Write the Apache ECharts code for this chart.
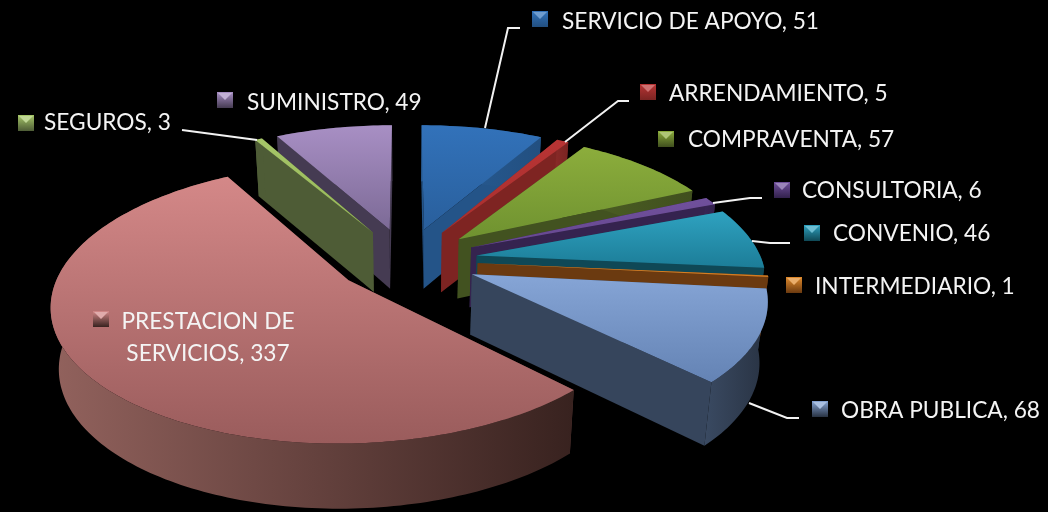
<!DOCTYPE html>
<html>
<head>
<meta charset="utf-8">
<style>
    html, body { margin: 0; padding: 0; background: #000; }
    #main { width: 1048px; height: 512px; }
    #main canvas { filter: blur(0.5px); }
</style>
<script src="https://cdn.jsdelivr.net/npm/echarts@6/dist/echarts.min.js"></script>
</head>
<body>
<div id="main"></div>
<script>
    // chart data
    var names = ['SERVICIO DE APOYO', 'ARRENDAMIENTO', 'COMPRAVENTA', 'CONSULTORIA', 'CONVENIO',
        'INTERMEDIARIO', 'OBRA PUBLICA', 'PRESTACION DE\nSERVICIOS', 'SEGUROS', 'SUMINISTRO'];
    var values = [51, 5, 57, 6, 46, 1, 68, 337, 3, 49];

    // top face gradient, side wall, outer wall gradient
    var topColors = [['#3272ba', '#295f9c'], ['#b83434', '#a82f2e'], ['#8cad3c', '#6f9230'], ['#70509c', '#664890'],
        ['#2fa2c0', '#1c7d98'], ['#e08a2c', '#d07a20'], ['#86a5d6', '#6483b4'], ['#d48888', '#9a5c5c'],
        ['#a6c668', '#96b658'], ['#a88fc4', '#7c6a96']];
    var sideColors = ['#245488', '#7e2422', '#425220', '#35234f', '#0f4856', '#6b3a10', '#36455c', '#5a3836', '#4e5c36', '#453b52'];
    var wallColors = [['#2a5f98', '#224f80'], ['#8a2a28', '#7a2422'], ['#4c5f24', '#404f1e'], ['#3a2658', '#32214c'],
        ['#0f4856', '#0f4855'], ['#7a4212', '#6b3a10'], ['#3a4a62', '#283242'], ['#92625d', '#38221f'],
        ['#4e5c36', '#4e5c36'], ['#453b52', '#453b52']];

    // label placement: marker box, text anchor, leader line
    var labelBoxes = [[532, 11], [640, 84], [658, 131], [774, 182], [804, 225], [786, 277], [812, 401], [93, 311], [18, 115], [217, 92]];
    var labelTexts = [[562, 22], [669, 94], [688, 140], [802, 191], [833, 234], [815, 287], [841, 411], [208, 338], [44, 123], [247, 103]];
    var leaders = [
        [[485, 128], [508, 28], [520, 28]],
        [[565, 142], [618, 101], [629, 101]],
        null,
        [[713, 203], [750, 198], [762, 198]],
        [[752, 241], [770, 243], [790, 243]],
        null,
        [[749, 403], [787, 418], [799, 418]],
        null,
        [[182, 130], [257, 140]],
        null
    ];

    // pie projection
    var cx = 406.5, cy = 260, rx = 285, ry = 130, persp = 0.16, explode = 0.25, depth = 60, shrink = 0.977;

    var total = values.reduce(function (a, b) { return a + b; }, 0);
    var starts = [];
    values.reduce(function (acc, v, i) { starts[i] = acc; return acc + v; }, 0);

    function project(u, v) {
        var s = 1 / (1 + persp * v);
        return [cx + rx * u * s, cy - ry * v * s, s];
    }
    function topPoint(u, v) {
        var p = project(u, v);
        return [p[0], p[1]];
    }
    function bottomPoint(u, v) {
        var p = project(u, v);
        return [cx + (p[0] - cx) * shrink, p[1] + depth * Math.pow(p[2], 0.4)];
    }

    function sliceAngles(i) {
        var a0 = starts[i] / total * Math.PI * 2;
        var a1 = (starts[i] + values[i]) / total * Math.PI * 2;
        return [a0, a1, (a0 + a1) / 2];
    }

    // back slices are painted first
    var drawOrder = values.map(function (v, i) { return i; }).sort(function (a, b) {
        return Math.cos(sliceAngles(b)[2]) - Math.cos(sliceAngles(a)[2]);
    });

    function renderSlice(params, api) {
        var i = params.dataIndex;
        var ang = sliceAngles(i);
        var ou = Math.sin(ang[2]) * explode, ov = Math.cos(ang[2]) * explode;
        var rank = drawOrder.indexOf(i) * 10;
        var steps = Math.max(4, Math.ceil((ang[1] - ang[0]) / 0.02));
        var arc = [];
        for (var k = 0; k <= steps; k++) {
            var t = ang[0] + (ang[1] - ang[0]) * k / steps;
            arc.push([ou + Math.sin(t), ov + Math.cos(t)]);
        }
        var tip = [ou, ov];
        var first = arc[0], last = arc[arc.length - 1];
        var children = [];

        function wallQuad(a, b) {
            children.push({
                type: 'polygon', z2: rank + 1,
                shape: {points: [topPoint(a[0], a[1]), topPoint(b[0], b[1]), bottomPoint(b[0], b[1]), bottomPoint(a[0], a[1])]},
                style: {fill: sideColors[i]}
            });
        }
        wallQuad(tip, first);
        wallQuad(tip, last);

        var topArc = arc.map(function (p) { return topPoint(p[0], p[1]); });
        var lowArc = arc.map(function (p) { return bottomPoint(p[0], p[1]); }).reverse();
        children.push({
            type: 'polygon', z2: rank + 2,
            shape: {points: topArc.concat(lowArc)},
            style: {
                fill: new echarts.graphic.LinearGradient(0, 0, 1, 0, [
                    {offset: 0, color: wallColors[i][0]},
                    {offset: 1, color: wallColors[i][1]}
                ])
            }
        });
        children.push({
            type: 'polygon', z2: rank + 3,
            shape: {points: [topPoint(tip[0], tip[1])].concat(topArc)},
            style: {
                fill: new echarts.graphic.LinearGradient(0, 0, 0, 1, [
                    {offset: 0, color: topColors[i][0]},
                    {offset: 1, color: topColors[i][1]}
                ])
            }
        });

        // leader line
        if (leaders[i]) {
            children.push({
                type: 'polyline', z2: 500,
                shape: {points: leaders[i]},
                style: {fill: null, stroke: '#f2f2f2', lineWidth: 2}
            });
        }

        // bevelled marker square
        var bx = labelBoxes[i][0], by = labelBoxes[i][1], size = 16;
        children.push({
            type: 'rect', z2: 600,
            shape: {x: bx, y: by, width: size, height: size},
            style: {
                fill: new echarts.graphic.LinearGradient(0, 0, 0, 1, [
                    {offset: 0, color: topColors[i][0]},
                    {offset: 1, color: wallColors[i][1]}
                ])
            }
        });
        children.push({
            type: 'polygon', z2: 601,
            shape: {points: [[bx + 1, by + 1], [bx + size - 1, by + 1], [bx + size / 2, by + size / 2]]},
            style: {fill: echarts.color.lift(topColors[i][0], 0.3)}
        });

        // label text
        var isInside = names[i].indexOf('\n') >= 0;
        children.push({
            type: 'text', z2: 700,
            style: {
                text: names[i] + ', ' + values[i],
                x: labelTexts[i][0],
                y: labelTexts[i][1],
                fill: '#f4f4f4',
                font: '22.7px Lato, "Open Sans", sans-serif',
                lineHeight: 32,
                textAlign: isInside ? 'center' : 'left',
                textVerticalAlign: 'middle'
            }
        });

        return {type: 'group', children: children};
    }

    var myChart = echarts.init(document.getElementById('main'), null, {renderer: 'canvas'});
    myChart.setOption({
        backgroundColor: '#000',
        animation: false,
        series: [
            {
                type: 'custom',
                coordinateSystem: 'none',
                renderItem: renderSlice,
                data: values
            }
        ]
    });
</script>
</body>
</html>
